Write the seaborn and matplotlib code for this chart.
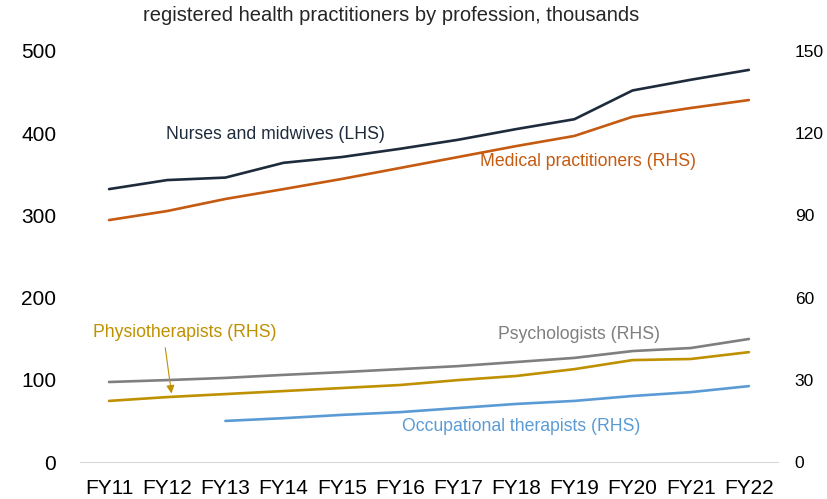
import numpy as np
import pandas as pd
import matplotlib
matplotlib.use("Agg")
import matplotlib.pyplot as plt
import seaborn as sns

# registered practitioners, thousands
years = ["FY11", "FY12", "FY13", "FY14", "FY15", "FY16",
         "FY17", "FY18", "FY19", "FY20", "FY21", "FY22"]
nurses = [332, 343, 346, 364, 371, 381, 392, 405, 417, 452, 465, 477]          # LHS
medical = [88.3, 91.6, 96.0, 99.6, 103.3, 107.3, 111.3, 115.3, 119.0, 126.0, 129.2, 132.1]
psychologists = [29.2, 29.9, 30.7, 31.8, 32.8, 33.9, 35.0, 36.5, 38.0, 40.5, 41.6, 44.9]
physio = [22.3, 23.7, 24.8, 25.9, 27.0, 28.1, 29.9, 31.4, 33.9, 37.2, 37.6, 40.1]
occupational = [np.nan, np.nan, 15.0, 16.0, 17.2, 18.2, 19.7, 21.2, 22.3, 24.1, 25.5, 27.7]

c_nurse = "#1e2b3c"
c_med = "#c55a11"
c_psych = "#7f7f7f"
c_physio = "#bf9000"
c_ot = "#5b9bd5"

sns.set_style("white")
plt.rcParams["font.family"] = ["Liberation Sans", "DejaVu Sans"]

df = pd.DataFrame({
    "x": np.arange(len(years)),
    "nurses": nurses,
    "medical": medical,
    "psych": psychologists,
    "physio": physio,
    "ot": occupational,
})

fig = plt.figure(figsize=(8.27, 4.99), dpi=100)
ax = fig.add_axes([0.0967, 0.0741, 0.8440, 0.8237])
ax2 = ax.twinx()

lw = 1.9
sns.lineplot(data=df, x="x", y="nurses", ax=ax, color=c_nurse, linewidth=lw)
sns.lineplot(data=df, x="x", y="medical", ax=ax2, color=c_med, linewidth=lw)
sns.lineplot(data=df, x="x", y="psych", ax=ax2, color=c_psych, linewidth=lw)
sns.lineplot(data=df, x="x", y="physio", ax=ax2, color=c_physio, linewidth=lw)
sns.lineplot(data=df.dropna(), x="x", y="ot", ax=ax2, color=c_ot, linewidth=lw)

ax.set_xlim(-0.5, len(years) - 0.5)
ax.set_ylim(0, 500)
ax2.set_ylim(0, 150)
ax.set_yticks([0, 100, 200, 300, 400, 500])
ax2.set_yticks([0, 30, 60, 90, 120, 150])
ax.set_xticks(df["x"])
ax.set_xticklabels(years)
for a in (ax, ax2):
    a.set_xlabel("")
    a.set_ylabel("")
    for s in a.spines.values():
        s.set_visible(False)
    a.tick_params(length=0, labelsize=15, colors="black")
ax.spines["bottom"].set_visible(True)
ax.spines["bottom"].set_color("#d9d9d9")
ax.tick_params(axis="y", pad=17)
ax.tick_params(axis="x", pad=12)
ax2.tick_params(axis="y", pad=12, labelsize=12.5)

fs = 12.7
ax.text(0.98, 398, "Nurses and midwives (LHS)", color=c_nurse, fontsize=fs, va="center")
ax2.text(6.38, 109.5, "Medical practitioners (RHS)", color=c_med, fontsize=fs, va="center")
ax2.text(6.69, 46.4, "Psychologists (RHS)", color=c_psych, fontsize=fs, va="center")
ax2.text(-0.28, 47.4, "Physiotherapists (RHS)", color=c_physio, fontsize=fs, va="center")
ax2.text(5.04, 13.1, "Occupational therapists (RHS)", color=c_ot, fontsize=fs, va="center")
ax2.annotate("", xy=(1.08, 24.0), xytext=(0.96, 42.7),
             arrowprops=dict(arrowstyle="-|>", color=c_physio, lw=0.8, mutation_scale=12))

fig.text(0.473, 0.968, "registered health practitioners by profession, thousands",
         ha="center", va="center", fontsize=14.5)

fig.savefig("out.png", dpi=100)
